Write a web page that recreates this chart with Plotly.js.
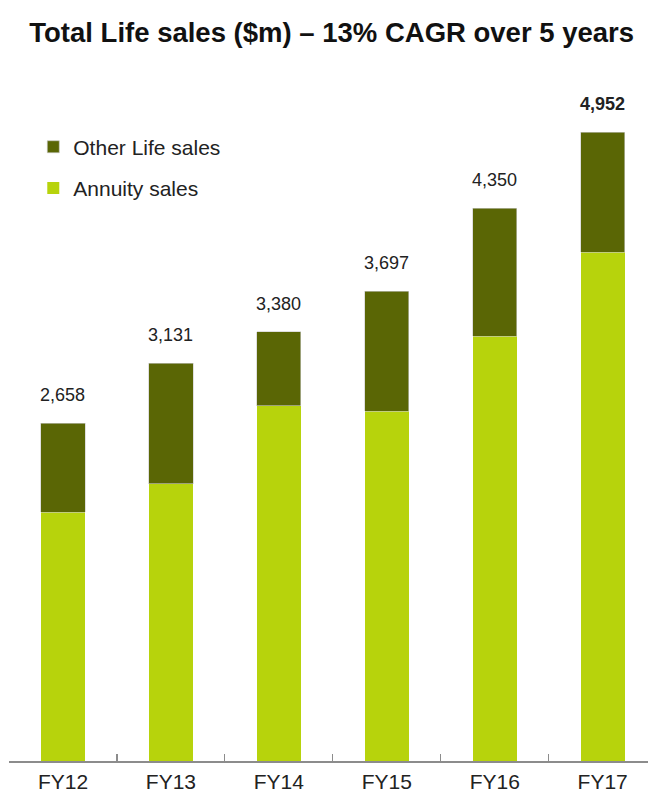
<!DOCTYPE html>
<html>
<head>
<meta charset="utf-8">
<script src="https://cdn.plot.ly/plotly-3.0.1.min.js"></script>
<style>html,body{margin:0;padding:0;background:#fff;}#chart{width:648px;height:794px;}</style>
</head>
<body>
<div id="chart"></div>
<script>
const categories = ["FY12", "FY13", "FY14", "FY15", "FY16", "FY17"];
const annuitySales = [1960, 2181, 2795, 2755, 3346, 4007];
const otherLifeSales = [698, 950, 585, 942, 1004, 945];
const totalSales = [2658, 3131, 3380, 3697, 4350, 4952];
const titleText = "Total Life sales ($m) – 13% CAGR over 5 years";

const colAnnuity = "#b7d30c";
const colOther = "#5a6605";
const textCol = "#222222";
const fontFam = "Liberation Sans, Arial, sans-serif";

const traces = [
  {
    type: "bar", name: "Annuity sales", x: categories, y: annuitySales,
    marker: {color: colAnnuity}, width: 0.41, legendgroup: "a", legendrank: 2,
    hoverinfo: "skip"
  },
  {
    type: "bar", name: "Other Life sales", x: categories, y: otherLifeSales,
    marker: {color: colOther, line: {color: "#c9c9c9", width: 0.6}}, width: 0.41,
    legendgroup: "b", legendrank: 1, hoverinfo: "skip"
  }
];

const annotations = categories.map((c, i) => ({
  x: c, y: totalSales[i], xref: "x", yref: "y",
  text: (i === categories.length - 1 ? "<b>" : "") + totalSales[i].toLocaleString("en-US") + (i === categories.length - 1 ? "</b>" : ""),
  showarrow: false, yanchor: "middle", yshift: 28,
  font: {family: fontFam, size: 18, color: textCol}
}));

const layout = {
  width: 648, height: 794,
  margin: {l: 9, r: 0, t: 60, b: 33, pad: 0},
  paper_bgcolor: "#ffffff", plot_bgcolor: "#ffffff",
  barmode: "stack",
  showlegend: true,
  title: {
    text: "<b>" + titleText + "</b>",
    font: {family: fontFam, size: 27.5, color: "#111111"},
    x: 0.505, xanchor: "center", xref: "paper",
    y: 1 - 32/794, yanchor: "middle", yref: "container"
  },
  legend: {
    x: 0.038, y: 0.905, xanchor: "left", yanchor: "top",
    bgcolor: "rgba(0,0,0,0)", font: {family: fontFam, size: 21, color: textCol},
    tracegroupgap: 11, itemwidth: 30
  },
  xaxis: {
    type: "category", range: [-0.5, 5.42], fixedrange: true,
    showline: true, linecolor: "#8c8c8c", linewidth: 1.5,
    ticks: "inside", tickson: "boundaries", ticklen: 7, tickcolor: "#8c8c8c", tickwidth: 1.2,
    tickfont: {family: fontFam, size: 21, color: textCol},
    ticklabelstandoff: 1,
    showgrid: false, zeroline: false
  },
  yaxis: {
    range: [0, 5519], visible: false, showgrid: false, zeroline: false, fixedrange: true
  },
  annotations: annotations
};

Plotly.newPlot("chart", traces, layout, {displayModeBar: false, staticPlot: true});
</script>
</body>
</html>
